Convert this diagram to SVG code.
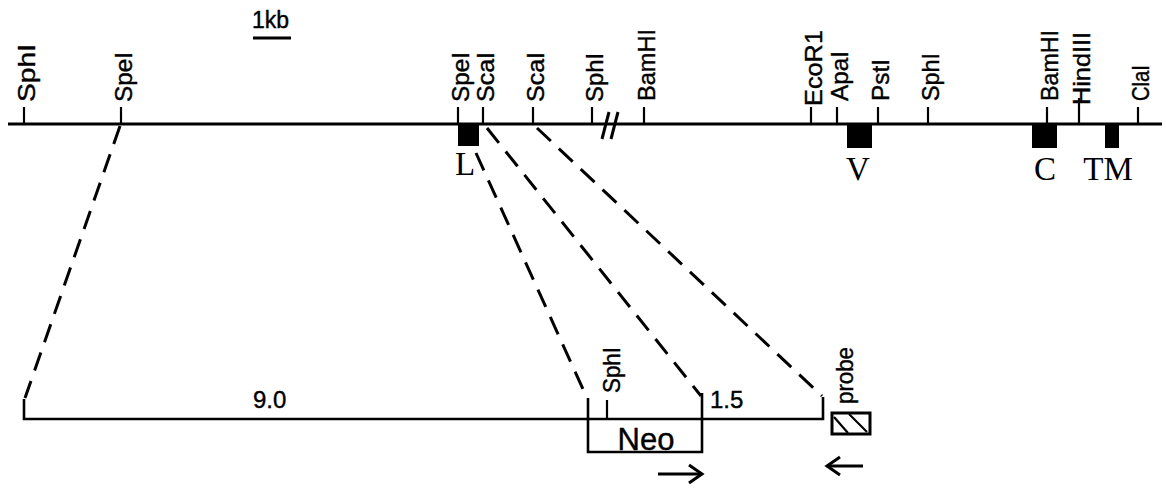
<svg xmlns="http://www.w3.org/2000/svg" width="1166" height="488" viewBox="0 0 1166 488">
<style>
.ln{stroke:#000;stroke-width:2.6;fill:none;stroke-linecap:butt}
.tk{stroke:#000;stroke-width:2.2;fill:none}
.dash{stroke:#000;stroke-width:3;fill:none;stroke-dasharray:19 11}
.lab{font-family:"Liberation Sans",Arial,sans-serif;font-size:24px;fill:#000;stroke:#000;stroke-width:0.4}
.ser{font-family:"Liberation Serif","Times New Roman",serif;font-size:33px;fill:#000;text-anchor:middle}
.ex{fill:#000}
</style>
<rect width="1166" height="488" fill="#fff"/>

<g id="scale">
<text class="lab" x="252" y="28" style="font-size:23px">1kb</text>
<line class="ln" x1="253" y1="38" x2="291" y2="38" style="stroke-width:3"/>
</g>

<g id="map">
<line class="ln" x1="8" y1="124" x2="1162" y2="124" style="stroke-width:3"/>
<line class="ln" x1="602" y1="139" x2="609" y2="112" style="stroke-width:3"/>
<line class="ln" x1="611" y1="139" x2="618" y2="112" style="stroke-width:3"/>
</g>

<g id="sites">
<g id="s-SphI-1"><line class="tk" x1="24" y1="107" x2="24" y2="124"/><text class="lab" transform="translate(35,102) rotate(-90)" textLength="58" lengthAdjust="spacingAndGlyphs">SphI</text></g>
<g id="s-SpeI-1"><line class="tk" x1="121" y1="107" x2="121" y2="124"/><text class="lab" transform="translate(132,102) rotate(-90)" textLength="50" lengthAdjust="spacingAndGlyphs">SpeI</text></g>
<g id="s-SpeI-2"><line class="tk" x1="458" y1="107" x2="458" y2="124"/><text class="lab" transform="translate(469,102) rotate(-90)" textLength="50" lengthAdjust="spacingAndGlyphs">SpeI</text></g>
<g id="s-ScaI-1"><line class="tk" x1="483" y1="107" x2="483" y2="124"/><text class="lab" transform="translate(494,102) rotate(-90)" textLength="50" lengthAdjust="spacingAndGlyphs">ScaI</text></g>
<g id="s-ScaI-2"><line class="tk" x1="533" y1="107" x2="533" y2="124"/><text class="lab" transform="translate(544,102) rotate(-90)" textLength="50" lengthAdjust="spacingAndGlyphs">ScaI</text></g>
<g id="s-SphI-2"><line class="tk" x1="592" y1="107" x2="592" y2="124"/><text class="lab" transform="translate(603,102) rotate(-90)" textLength="49" lengthAdjust="spacingAndGlyphs">SphI</text></g>
<g id="s-BamHI-1"><line class="tk" x1="644" y1="107" x2="644" y2="124"/><text class="lab" transform="translate(655,101) rotate(-90)" textLength="72" lengthAdjust="spacingAndGlyphs">BamHI</text></g>
<g id="s-EcoR1"><line class="tk" x1="811" y1="107" x2="811" y2="124"/><text class="lab" transform="translate(822,106) rotate(-90)" textLength="76" lengthAdjust="spacingAndGlyphs">EcoR1</text></g>
<g id="s-ApaI"><line class="tk" x1="837" y1="107" x2="837" y2="124"/><text class="lab" transform="translate(848,101) rotate(-90)" textLength="50" lengthAdjust="spacingAndGlyphs">ApaI</text></g>
<g id="s-PstI"><line class="tk" x1="878" y1="107" x2="878" y2="124"/><text class="lab" transform="translate(889,101) rotate(-90)" textLength="42" lengthAdjust="spacingAndGlyphs">PstI</text></g>
<g id="s-SphI-3"><line class="tk" x1="928" y1="107" x2="928" y2="124"/><text class="lab" transform="translate(939,101) rotate(-90)" textLength="48" lengthAdjust="spacingAndGlyphs">SphI</text></g>
<g id="s-BamHI-2"><line class="tk" x1="1047" y1="107" x2="1047" y2="124"/><text class="lab" transform="translate(1058,101) rotate(-90)" textLength="71" lengthAdjust="spacingAndGlyphs">BamHI</text></g>
<g id="s-HindIII"><line class="tk" x1="1079" y1="98" x2="1079" y2="124"/><text class="lab" transform="translate(1090,105) rotate(-90)" textLength="73" lengthAdjust="spacingAndGlyphs">HindIII</text></g>
<g id="s-ClaI"><line class="tk" x1="1138" y1="107" x2="1138" y2="124"/><text class="lab" transform="translate(1149,101) rotate(-90)" textLength="36" lengthAdjust="spacingAndGlyphs">ClaI</text></g>
</g>

<g id="exon-L"><rect class="ex" x="458" y="124" width="21" height="22"/><text class="ser" x="465" y="175">L</text></g>
<g id="exon-V"><rect class="ex" x="847" y="124" width="25" height="24"/><text class="ser" x="858" y="180">V</text></g>
<g id="exon-C"><rect class="ex" x="1032" y="124" width="25" height="24"/><text class="ser" x="1045" y="180">C</text></g>
<g id="exon-TM"><rect class="ex" x="1105" y="124" width="14" height="24"/><text class="ser" x="1108" y="180">TM</text></g>

<g id="construct">
<path class="ln" d="M24,399 V419 H823 V397"/>
<text class="lab" x="253" y="408">9.0</text>
<text class="lab" x="710" y="408">1.5</text>
<line class="tk" x1="607" y1="400" x2="607" y2="419"/>
<text class="lab" transform="translate(620,393) rotate(-90)" textLength="46" lengthAdjust="spacingAndGlyphs">SphI</text>
</g>

<g id="neo">
<path class="ln" d="M588,398 V452 H702 V393"/>
<text class="lab" x="646" y="450" style="font-size:31px;text-anchor:middle">Neo</text>
<line class="ln" x1="658" y1="474" x2="702" y2="474" style="stroke-width:3"/>
<polyline class="ln" points="689,465 702,474 689,483" style="stroke-width:3"/>
</g>

<g id="probe">
<rect x="832" y="413" width="38" height="21" fill="#fff" stroke="#000" stroke-width="3"/>
<line class="tk" x1="834" y1="417" x2="848" y2="433"/>
<line class="tk" x1="849" y1="414" x2="867" y2="432"/>
<text class="lab" transform="translate(853,404) rotate(-90)" textLength="57" lengthAdjust="spacingAndGlyphs">probe</text>
<line class="ln" x1="827" y1="466" x2="863" y2="466" style="stroke-width:3"/>
<polyline class="ln" points="840,457 827,466 840,475" style="stroke-width:3"/>
</g>

<g id="connectors">
<line class="dash" x1="120" y1="126" x2="25" y2="398"/>
<line class="dash" x1="476" y1="153" x2="587" y2="398"/>
<line class="dash" x1="487" y1="128" x2="701" y2="396"/>
<line class="dash" x1="537" y1="128" x2="822" y2="396"/>
</g>
</svg>
